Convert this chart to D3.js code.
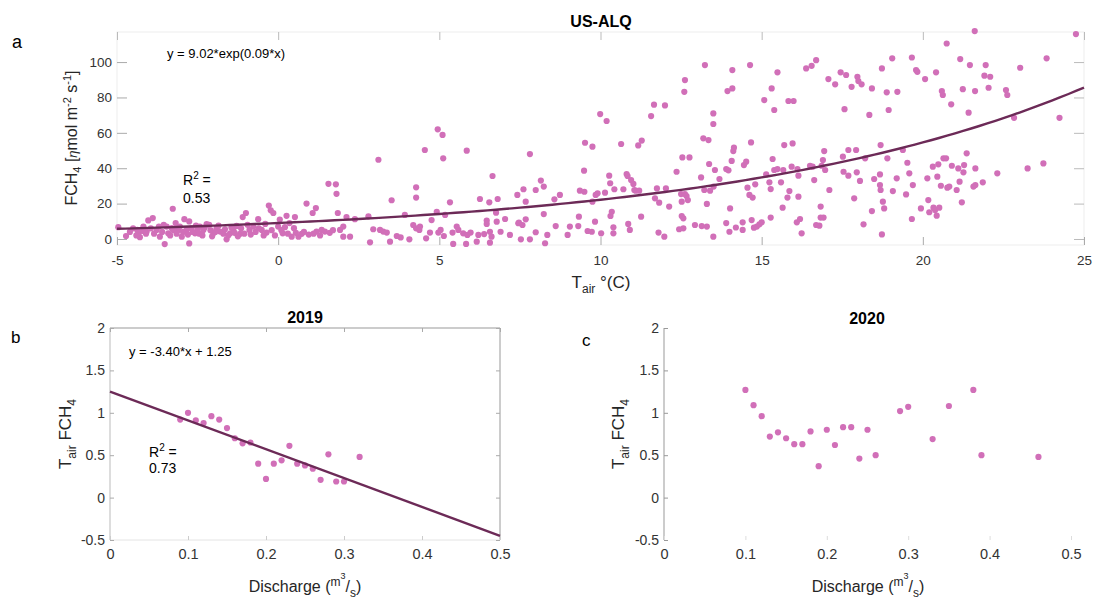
<!DOCTYPE html>
<html>
<head>
<meta charset="utf-8">
<script src="https://cdn.jsdelivr.net/npm/d3@7"></script>
<style>
	body { margin: 0; background: #fff; }
	text { font-family: "Liberation Sans", Arial, Helvetica, sans-serif; }
</style>
</head>
<body>

<svg id="chart" width="1097" height="599"></svg>

<script type="text/javascript">

	// US-ALQ: air temperature (C) vs methane flux
	var usAlq = [
		[-4.96,6.7],[-4.72,1.7],[-4.37,5.1],[-4.29,1.0],[-4.18,7.0],[-4.03,10.5],[-3.89,11.8],[-4.34,3.2],[-4.08,4.2],[-3.77,5.1],
		[-3.67,1.3],[-3.52,-2.9],[-3.46,7.0],[-3.41,3.2],[-3.30,6.1],[-3.27,17.1],[-3.18,9.0],[-3.10,5.1],[-2.99,1.3],[-2.91,11.2],
		[-2.84,5.1],[-2.76,9.9],[-2.76,-2.5],[-2.58,3.2],[-2.50,5.1],[-2.43,7.0],[-2.32,5.1],[-2.22,8.4],[-2.14,8.0],[-2.01,3.2],
		[-1.91,6.1],[-1.80,4.2],[-1.60,-0.2],[-1.49,3.2],[-1.39,5.1],[-1.29,7.4],[-1.18,2.9],[-1.10,12.4],[-1.00,14.7],[-0.89,5.1],
		[-0.77,7.0],[-0.62,11.2],[-0.51,5.1],[-0.36,3.6],[-0.29,18.9],[-0.23,16.2],[-0.15,14.7],[0.0,7.0],[0.14,3.2],[0.21,6.7],
		[0.26,13.1],[0.42,1.3],[0.49,6.1],[0.52,12.4],[0.63,1.3],[0.73,2.9],[0.88,20.0],[1.07,14.7],[1.17,17.5],[1.19,4.2],
		[1.35,5.1],[1.45,4.2],[1.56,31.2],[1.79,30.9],[1.81,25.5],[1.85,14.7],[1.92,5.1],[2.02,1.3],[2.02,7.0],[2.12,12.4],
		[2.23,1.3],[2.38,11.2],[2.80,12.8],[2.85,-1.9],[2.95,5.5],[3.11,44.8],[3.16,5.1],[3.26,4.2],[3.37,3.6],[3.47,-1.5],
		[3.52,21.9],[3.68,1.7],
		[-4.6,4],[-4.5,6],[-4.4,2],[-4.2,4.5],[-4.1,3],[-3.95,6],[-3.85,3],[-3.7,7],[-3.6,4],[-3.55,8],[-3.35,2],[-3.25,5],
		[-3.15,3],[-3.05,7],[-2.95,4],[-2.8,2.5],[-2.7,6],[-2.65,4],[-2.55,7.5],[-2.45,3],[-2.35,2],[-2.28,6.5],[-2.1,5],
		[-2.05,1.5],[-1.95,4],[-1.85,7.5],[-1.7,3],[-1.65,5.5],[-1.55,2],[-1.45,6.5],[-1.35,3.5],[-1.25,1.5],[-1.15,6],[-1.05,3],
		[-0.95,8],[-0.85,2.5],[-0.7,4],[-0.6,6],[-0.45,2],[-0.4,8.5],[-0.2,5],[-0.1,2],[0.05,11],[0.1,5],[0.3,3],[0.35,9],
		[0.55,3.5],[0.8,4],[0.95,2.5],[1.1,3],[1.3,2],[1.6,3.5],[1.7,5],
		[3.80,0.9],[4.07,-0.2],[3.93,13.6],[4.19,7.9],[4.28,29.2],[4.28,23.4],[4.28,6.0],[4.38,5.1],[4.40,7.0],[4.55,50.3],
		[4.59,0.4],[4.71,3.6],[4.76,10.7],[4.92,15.4],[4.95,62.0],[4.97,3.6],[5.04,5.1],[5.10,58.8],[5.12,45.6],[5.14,1.7],
		[5.18,13.6],[5.33,20.7],[5.41,3.6],[5.43,-2.8],[5.54,7.0],[5.59,5.1],[5.74,3.2],[5.83,-2.8],[5.85,49.9],[5.87,2.3],
		[5.97,3.6],[6.16,-1.5],[6.21,2.3],[6.26,22.6],[6.39,2.8],[6.47,10.4],[6.47,8.5],[6.55,20.7],[6.57,4.1],[6.62,1.3],
		[6.57,-2.1],[6.65,35.6],[6.76,14.9],[6.78,9.8],[6.81,22.6],[6.90,4.1],[7.04,11.3],[7.19,2.3],[7.42,24.9],[7.45,8.9],
		[7.47,9.2],[7.53,-0.2],[7.58,7.9],[7.61,28.1],[7.68,21.1],[7.68,11.1],[7.81,-0.2],[7.81,48.0],[7.99,27.7],[7.99,3.8],
		[8.15,33.0],[8.24,29.6],[8.24,14.1],[8.28,-2.4],[8.35,2.3],[8.57,22.4],[8.61,7.3],[8.74,24.9],[8.98,2.3],[9.05,7.0],
		[9.31,7.3],[9.33,12.6],[9.36,27.3],[9.49,38.6],[9.50,26.7],[9.52,54.4],[9.60,4.5],[9.73,4.1],[9.75,52.2],[9.75,21.1],
		[9.83,9.8],[9.85,24.9],[9.91,25.8],[9.99,70.6],[10.02,3.2],[10.14,26.2],[10.19,66.7],[10.27,35.8],[10.30,31.5],[10.31,13.0],
		[10.35,15.4],[10.40,6.6],[10.40,3.2],[10.43,28.1],[10.64,53.7],[10.71,28.1],[10.81,36.7],[10.84,35.6],[10.86,8.5],[10.91,5.1],
		[10.95,33.3],[11.02,31.1],[11.05,27.7],[11.09,27.3],[11.17,52.9],[11.20,27.3],[11.26,12.6],[11.28,55.6],[11.57,69.5],[11.66,75.9],
		[11.69,23.0],[11.75,28.6],[11.82,20.5],[11.80,3.6],[11.98,1.3],[12.00,75.5],[12.03,28.6],[12.13,18.3],[12.36,38.0],[12.44,5.5],
		[12.50,25.4],[12.52,21.1],[12.52,13.0],[12.54,46.1],[12.57,11.7],[12.57,6.0],[12.60,83.2],[12.62,89.8],[12.62,25.4],[12.67,24.3],
		[12.71,22.0],[12.76,46.1],[12.93,7.9],[13.12,34.8],[13.14,7.3],[13.19,56.9],[13.22,27.7],[13.30,7.0],[13.30,19.8],[13.35,55.9],
		[13.37,42.4],[13.40,27.3],[13.50,1.3],[13.50,71.0],[13.50,65.0],[13.51,29.6],[13.24,98.3],
		[13.55,39.0],[13.69,33.9],[13.90,39.5],[13.97,38.8],[14.02,17.3],[14.00,4.1],[13.94,83.6],[14.09,85.1],[14.09,95.5],[14.07,44.1],
		[14.12,49.7],[14.14,51.6],[14.41,9.4],[14.41,5.1],[14.45,41.8],[14.52,43.7],[14.56,29.0],[14.62,24.9],[14.64,98.3],[14.67,54.6],
		[14.69,10.7],[14.72,23.4],[14.76,6.4],[14.80,30.9],[14.85,7.0],[14.93,8.3],[15.00,9.4],[15.08,78.5],[15.14,36.5],[15.24,32.0],
		[15.28,28.2],[15.28,12.1],[15.31,85.1],[15.34,45.2],[15.39,72.9],[15.39,39.0],[15.49,94.2],[15.49,39.5],[15.60,32.0],[15.65,17.7],
		[15.67,39.0],[15.70,53.1],[15.80,23.4],[15.83,78.0],[15.86,27.1],[15.93,40.9],[15.96,54.0],[15.99,78.0],[16.09,9.4],[16.11,39.5],
		[16.14,35.8],[16.14,23.9],[16.19,11.3],[16.24,3.2],[16.38,96.4],[16.50,41.4],[16.55,97.9],[16.58,40.9],[16.63,33.3],[16.69,101.1],
		[16.69,7.9],[16.79,7.5],[16.83,18.3],[16.83,12.1],[16.86,41.4],[16.90,44.6],[16.92,12.1],[16.94,49.7],[16.97,39.0],[17.07,90.4],
		[17.10,27.7],[17.28,87.4],[17.45,94.2],[17.52,46.5],[17.54,38.0],[17.57,73.4],[17.62,92.7],[17.69,35.8],[17.69,50.3],[17.79,86.0],
		[17.87,23.0],[17.93,50.3],[17.95,37.7],[17.97,91.7],[18.00,89.3],[18.05,32.8],[18.10,87.4],[18.16,8.3],[18.21,45.6],[18.34,70.1],
		[18.42,85.1],[18.42,15.8],[18.49,33.9],[18.67,36.5],[18.69,53.1],[18.67,30.5],[18.69,27.7],[18.73,96.4],[18.73,2.6],[18.76,21.1],
		[18.80,17.3],[18.88,82.9],[18.90,45.6],[18.94,72.9],[19.07,27.1],[19.05,102.1],[19.19,34.3],[19.21,83.2],
		[13.9,9.0],[14.2,6.5],
		[19.38,50.3],[19.52,43.1],[19.58,37.1],[19.48,25.2],[19.66,102.6],[19.69,30.5],[19.66,11.3],[19.79,95.5],[19.83,94.5],[19.94,17.3],
		[20.07,90.4],[20.14,34.3],[20.17,22.0],[20.20,15.1],[20.31,40.9],[20.33,17.7],[20.38,16.4],[20.41,94.2],[20.43,13.2],[20.45,35.2],
		[20.48,42.2],[20.51,17.7],[20.56,30.1],[20.59,83.6],[20.62,81.4],[20.64,45.6],[20.72,45.6],[20.74,110.5],[20.76,29.0],[20.82,29.6],
		[20.88,76.1],[20.90,41.4],[21.05,27.7],[21.10,39.9],[21.14,32.4],[21.16,101.7],[21.21,20.7],[21.24,84.7],[21.26,37.7],[21.28,41.8],
		[21.36,48.4],[21.42,71.4],[21.46,98.3],[21.57,29.6],[21.61,117.5],[21.62,83.6],[21.63,30.5],[21.63,39.9],[21.86,32.0],[21.91,92.3],
		[21.95,98.3],[22.04,85.5],[22.09,91.7],[22.31,37.1],[22.58,84.2],[22.62,81.4],[22.83,68.5],[23.02,96.8],[23.25,39.9],[23.74,42.7],
		[23.84,102.1],[24.24,68.5],[24.75,115.8]
	];

	// discharge (m3/s) vs Tair/FCH4 ratio, per year
	var discharge2019 = [0.09,0.10,0.11,0.12,0.13,0.14,0.15,0.16,0.17,0.18,0.19,0.20,0.21,0.22,0.23,0.24,0.25,0.26,0.27,0.28,0.29,0.30,0.32];
	var ratio2019     = [0.92,1.00,0.91,0.88,0.96,0.92,0.82,0.70,0.64,0.65,0.40,0.22,0.40,0.44,0.61,0.40,0.38,0.34,0.21,0.51,0.19,0.19,0.48];
	var discharge2020 = [0.10,0.11,0.12,0.13,0.14,0.15,0.16,0.17,0.18,0.19,0.20,0.21,0.22,0.23,0.24,0.25,0.26,0.29,0.30,0.33,0.35,0.38,0.39,0.46];
	var ratio2020     = [1.27,1.09,0.96,0.72,0.77,0.70,0.63,0.63,0.78,0.37,0.80,0.62,0.83,0.83,0.46,0.80,0.50,1.02,1.07,0.69,1.08,1.27,0.50,0.48];

	var tempTicks = [-5, 0, 5, 10, 15, 20, 25];
	var fluxTicks = [0, 20, 40, 60, 80, 100];
	var dischargeTicks = [0, 0.1, 0.2, 0.3, 0.4, 0.5];
	var ratioTicks = [-0.5, 0, 0.5, 1, 1.5, 2];

	// fits printed on the panels
	var expFit = { a: 9.02, b: 0.09 };
	var linFit2019 = { m: -3.40, c: 1.25 };

	var dotColor = "#d16fb8";
	var lineColor = "#6c2a57";
	var tickText = "#333";

	var svg = d3.select("#chart");

	var xA = d3.scaleLinear().domain([-5, 25]).range([117, 1084]);
	var yA = d3.scaleLinear().domain([-3.4, 117]).range([245, 32]);
	var xB = d3.scaleLinear().domain([0, 0.5]).range([110, 500]);
	var yB = d3.scaleLinear().domain([-0.5, 2]).range([540, 328]);
	var xC = d3.scaleLinear().domain([0, 0.5]).range([664, 1071]);
	var yC = d3.scaleLinear().domain([-0.5, 2]).range([540, 328]);

	function styleAxis(g, tickColor, fontSize) {
		g.select(".domain").remove();
		g.selectAll(".tick line").attr("stroke", tickColor);
		g.selectAll(".tick text")
			.attr("fill", tickText)
			.attr("font-size", fontSize)
			.attr("font-family", "Liberation Sans, Arial, sans-serif");
	}

	function label(x, y, parts, size, opts) {
		opts = opts || {};
		var t = svg.append("text")
			.attr("x", x).attr("y", y)
			.attr("font-size", size)
			.attr("fill", opts.fill || "#262626")
			.attr("text-anchor", opts.anchor || "start");
		if (opts.bold) t.attr("font-weight", "bold");
		if (opts.rotate) t.attr("transform", "rotate(-90," + x + "," + y + ")");
		parts.forEach(function(p) {
			var s = t.append("tspan").text(p.t);
			if (p.dy) s.attr("dy", p.dy);
			if (p.size) s.attr("font-size", p.size);
			if (p.italic) s.attr("font-style", "italic");
		});
		return t;
	}

	// ---------- panel a ----------
	svg.append("rect")
		.attr("x", 117).attr("y", 32).attr("width", 967).attr("height", 213)
		.attr("fill", "none").attr("stroke", "#ededed");

	svg.append("g").attr("transform", "translate(0,245)")
		.call(d3.axisBottom(xA).tickValues(tempTicks).tickSize(-8).tickPadding(10).tickFormat(String))
		.call(styleAxis, "#aaa", 13.5);
	svg.append("g").attr("transform", "translate(0,32)")
		.call(d3.axisTop(xA).tickValues(tempTicks).tickSize(-8).tickFormat(""))
		.call(styleAxis, "#bbb", 13.5);
	svg.append("g").attr("transform", "translate(117,0)")
		.call(d3.axisLeft(yA).tickValues(fluxTicks).tickSize(-10).tickPadding(5).tickFormat(String))
		.call(styleAxis, "#aaa", 13.5);
	svg.append("g").attr("transform", "translate(1084,0)")
		.call(d3.axisRight(yA).tickValues(fluxTicks).tickSize(-10).tickFormat(""))
		.call(styleAxis, "#bbb", 13.5);

	svg.append("g").selectAll("circle").data(usAlq).enter()
		.append("circle")
		.attr("cx", function(d) { return xA(d[0]); })
		.attr("cy", function(d) { return yA(d[1]); })
		.attr("r", 3.1)
		.attr("fill", dotColor);

	var curveX = d3.range(-5, 25.001, 0.25);
	svg.append("path")
		.datum(curveX)
		.attr("fill", "none")
		.attr("stroke", lineColor)
		.attr("stroke-width", 2.4)
		.attr("d", d3.line()
			.x(function(d) { return xA(d); })
			.y(function(d) { return yA(expFit.a * Math.exp(expFit.b * d)); }));

	label(601, 27, [{t: "US-ALQ"}], 16, {anchor: "middle", bold: true, fill: "#000"});
	label(12, 48, [{t: "a"}], 18, {fill: "#000"});
	label(167, 58, [{t: "y = " + expFit.a.toFixed(2) + "*exp(" + expFit.b.toFixed(2) + "*x)"}], 13, {fill: "#000"});
	label(183, 185, [{t: "R"}, {t: "2", dy: -6, size: 10}, {t: " =", dy: 6}], 14, {fill: "#000"});
	label(183, 203, [{t: "0.53"}], 14, {fill: "#000"});
	label(601, 288, [{t: "T"}, {t: "air", dy: 5, size: 12}, {t: " \u00b0(C)", dy: -5}], 17, {anchor: "middle"});
	label(77, 138, [
		{t: "FCH"}, {t: "4", dy: 4, size: 11},
		{t: " [", dy: -4}, {t: "\u03b7", italic: true, size: 13}, {t: "mol m"},
		{t: "-2", dy: -6, size: 11}, {t: " s", dy: 6}, {t: "-1", dy: -6, size: 11}, {t: "]", dy: 6}
	], 16, {anchor: "middle", rotate: true});

	// ---------- panel b ----------
	svg.append("line").attr("x1", 110).attr("x2", 500).attr("y1", 328).attr("y2", 328).attr("stroke", "#999");
	svg.append("line").attr("x1", 500).attr("x2", 500).attr("y1", 328).attr("y2", 540).attr("stroke", "#999");
	svg.append("line").attr("x1", 110).attr("x2", 110).attr("y1", 328).attr("y2", 540).attr("stroke", "#bbb");
	svg.append("line").attr("x1", 110).attr("x2", 500).attr("y1", 540).attr("y2", 540).attr("stroke", "#e4e4e4");

	svg.append("g").attr("transform", "translate(0,540)")
		.call(d3.axisBottom(xB).tickValues(dischargeTicks).tickSize(-4).tickPadding(9).tickFormat(String))
		.call(styleAxis, "#ccc", 14.5);
	svg.append("g").attr("transform", "translate(0,328)")
		.call(d3.axisTop(xB).tickValues(dischargeTicks).tickSize(-4).tickFormat(""))
		.call(styleAxis, "#aaa", 14);
	svg.append("g").attr("transform", "translate(110,0)")
		.call(d3.axisLeft(yB).tickValues(ratioTicks).tickSize(-4).tickPadding(5).tickFormat(String))
		.call(styleAxis, "#aaa", 14);
	svg.append("g").attr("transform", "translate(500,0)")
		.call(d3.axisRight(yB).tickValues(ratioTicks).tickSize(-4).tickFormat(""))
		.call(styleAxis, "#aaa", 14);

	svg.append("g").selectAll("circle").data(discharge2019).enter()
		.append("circle")
		.attr("cx", function(d) { return xB(d); })
		.attr("cy", function(d, i) { return yB(ratio2019[i]); })
		.attr("r", 3.1)
		.attr("fill", dotColor);

	svg.append("path")
		.datum([0, 0.5])
		.attr("fill", "none")
		.attr("stroke", lineColor)
		.attr("stroke-width", 2.4)
		.attr("d", d3.line()
			.x(function(d) { return xB(d); })
			.y(function(d) { return yB(linFit2019.m * d + linFit2019.c); }));

	label(305, 323, [{t: "2019"}], 16, {anchor: "middle", bold: true, fill: "#000"});
	label(11, 343, [{t: "b"}], 17, {fill: "#000"});
	label(129, 356, [{t: "y = " + linFit2019.m.toFixed(2) + "*x + " + linFit2019.c.toFixed(2)}], 13, {fill: "#000"});
	label(149, 457, [{t: "R"}, {t: "2", dy: -6, size: 10}, {t: " =", dy: 6}], 14, {fill: "#000"});
	label(149, 473, [{t: "0.73"}], 14, {fill: "#000"});

	function dischargeLabel(cx) {
		label(cx, 592, [
			{t: "Discharge ("}, {t: "m", dy: -6, size: 12}, {t: "3", dy: -7, size: 9},
			{t: "/", dy: 13, size: 16}, {t: "s", dy: 5, size: 12}, {t: ")", dy: -5, size: 16}
		], 16, {anchor: "middle"});
	}
	function ratioLabel(x) {
		label(x, 434, [{t: "T"}, {t: "air", dy: 5, size: 12}, {t: " FCH", dy: -5}, {t: "4", dy: 5, size: 12}], 17,
			{anchor: "middle", rotate: true});
	}
	dischargeLabel(305);
	ratioLabel(71);

	// ---------- panel c ----------
	svg.append("line").attr("x1", 664).attr("x2", 664).attr("y1", 328).attr("y2", 540).attr("stroke", "#999");

	svg.append("g").attr("transform", "translate(0,540)")
		.call(d3.axisBottom(xC).tickValues(dischargeTicks).tickSize(-4).tickPadding(9).tickFormat(String))
		.call(styleAxis, "#ddd", 14.5);
	svg.append("g").attr("transform", "translate(664,0)")
		.call(d3.axisLeft(yC).tickValues(ratioTicks).tickSize(-4).tickPadding(5).tickFormat(String))
		.call(styleAxis, "#999", 14);

	svg.append("g").selectAll("circle").data(discharge2020).enter()
		.append("circle")
		.attr("cx", function(d) { return xC(d); })
		.attr("cy", function(d, i) { return yC(ratio2020[i]); })
		.attr("r", 3.1)
		.attr("fill", dotColor);

	label(867, 324, [{t: "2020"}], 16, {anchor: "middle", bold: true, fill: "#000"});
	label(582, 346, [{t: "c"}], 17, {fill: "#000"});
	dischargeLabel(868);
	ratioLabel(624);

</script>

</body>
</html>
